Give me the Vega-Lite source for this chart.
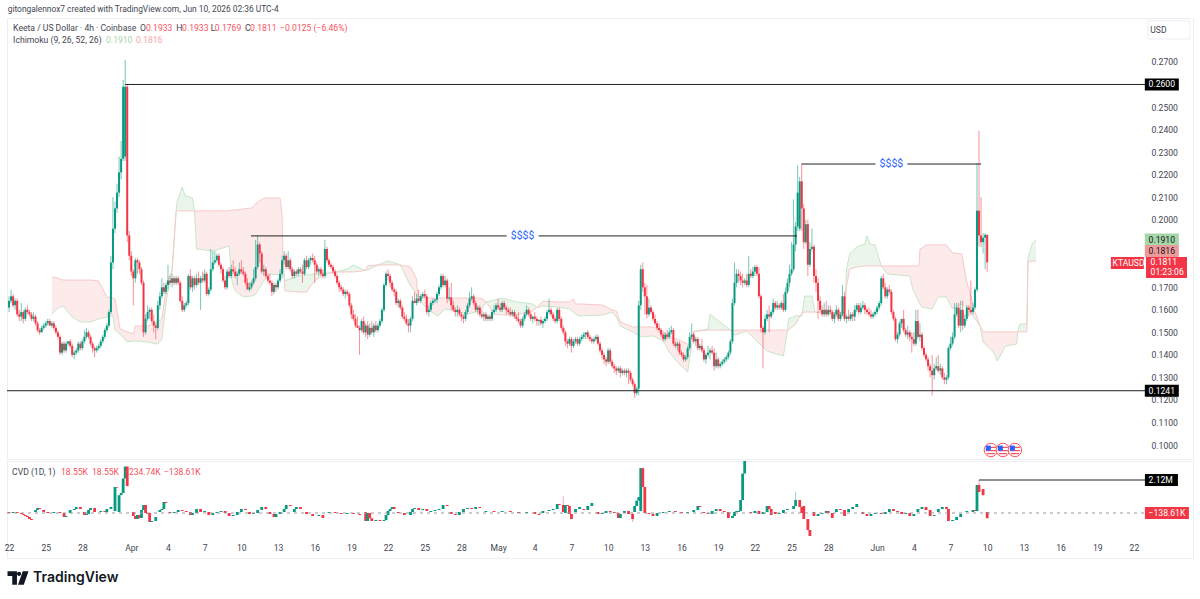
{
"$schema":"https://vega.github.io/schema/vega-lite/v6.json",
"background":"white",
"padding":{"left":3,"top":5,"right":0,"bottom":0},
"spacing":0,
"title":{"text":"gitongalennox7 created with TradingView.com, Jun 10, 2026 02:36 UTC-4","anchor":"start","font":"Roboto","fontSize":8.4,"fontWeight":"normal","color":"#434651","offset":4,"dx":4},
"config":{"view":{"stroke":"#eceef3"},"concat":{"spacing":0}},
"datasets":{
"candles":[
{"i":0,"o":0.161,"h":0.166,"l":0.159,"c":0.164},{"i":1,"o":0.164,"h":0.169,"l":0.163,"c":0.166},{"i":2,"o":0.166,"h":0.167,"l":0.161,"c":0.162},{"i":3,"o":0.162,"h":0.165,"l":0.16,"c":0.164},{"i":4,"o":0.164,"h":0.165,"l":0.157,"c":0.158},{"i":5,"o":0.158,"h":0.16,"l":0.155,"c":0.157},{"i":6,"o":0.157,"h":0.163,"l":0.155,"c":0.159},{"i":7,"o":0.159,"h":0.16,"l":0.154,"c":0.156},{"i":8,"o":0.156,"h":0.161,"l":0.155,"c":0.16},{"i":9,"o":0.16,"h":0.162,"l":0.158,"c":0.159},{"i":10,"o":0.159,"h":0.16,"l":0.157,"c":0.158},{"i":11,"o":0.158,"h":0.159,"l":0.155,"c":0.156},{"i":12,"o":0.156,"h":0.159,"l":0.155,"c":0.157},{"i":13,"o":0.157,"h":0.158,"l":0.153,"c":0.154},{"i":14,"o":0.154,"h":0.155,"l":0.15,"c":0.151},{"i":15,"o":0.151,"h":0.152,"l":0.149,"c":0.15},{"i":16,"o":0.15,"h":0.153,"l":0.15,"c":0.152},{"i":17,"o":0.152,"h":0.154,"l":0.151,"c":0.153},{"i":18,"o":0.153,"h":0.155,"l":0.152,"c":0.154},{"i":19,"o":0.154,"h":0.156,"l":0.153,"c":0.155},
{"i":20,"o":0.155,"h":0.156,"l":0.153,"c":0.153},{"i":21,"o":0.153,"h":0.155,"l":0.152,"c":0.154},{"i":22,"o":0.154,"h":0.155,"l":0.151,"c":0.152},{"i":23,"o":0.152,"h":0.153,"l":0.149,"c":0.15},{"i":24,"o":0.15,"h":0.151,"l":0.147,"c":0.148},{"i":25,"o":0.148,"h":0.149,"l":0.14,"c":0.141},{"i":26,"o":0.141,"h":0.146,"l":0.14,"c":0.145},{"i":27,"o":0.145,"h":0.146,"l":0.141,"c":0.142},{"i":28,"o":0.142,"h":0.146,"l":0.141,"c":0.145},{"i":29,"o":0.145,"h":0.146,"l":0.144,"c":0.146},{"i":30,"o":0.146,"h":0.147,"l":0.143,"c":0.144},{"i":31,"o":0.144,"h":0.145,"l":0.139,"c":0.14},{"i":32,"o":0.14,"h":0.142,"l":0.138,"c":0.141},{"i":33,"o":0.141,"h":0.143,"l":0.14,"c":0.142},{"i":34,"o":0.142,"h":0.146,"l":0.141,"c":0.145},{"i":35,"o":0.145,"h":0.146,"l":0.142,"c":0.143},{"i":36,"o":0.143,"h":0.147,"l":0.142,"c":0.146},{"i":37,"o":0.146,"h":0.151,"l":0.145,"c":0.148},{"i":38,"o":0.148,"h":0.152,"l":0.147,"c":0.15},{"i":39,"o":0.15,"h":0.151,"l":0.147,"c":0.148},
{"i":40,"o":0.148,"h":0.149,"l":0.144,"c":0.145},{"i":41,"o":0.145,"h":0.146,"l":0.141,"c":0.143},{"i":42,"o":0.143,"h":0.144,"l":0.139,"c":0.142},{"i":43,"o":0.142,"h":0.144,"l":0.141,"c":0.143},{"i":44,"o":0.143,"h":0.145,"l":0.142,"c":0.144},{"i":45,"o":0.144,"h":0.147,"l":0.143,"c":0.146},{"i":46,"o":0.146,"h":0.149,"l":0.145,"c":0.148},{"i":47,"o":0.148,"h":0.152,"l":0.147,"c":0.151},{"i":48,"o":0.151,"h":0.154,"l":0.15,"c":0.153},{"i":49,"o":0.153,"h":0.16,"l":0.152,"c":0.159},{"i":50,"o":0.159,"h":0.184,"l":0.158,"c":0.181},{"i":51,"o":0.181,"h":0.21,"l":0.178,"c":0.196},{"i":52,"o":0.196,"h":0.208,"l":0.194,"c":0.205},{"i":53,"o":0.205,"h":0.216,"l":0.203,"c":0.212},{"i":54,"o":0.212,"h":0.228,"l":0.21,"c":0.221},{"i":55,"o":0.221,"h":0.235,"l":0.218,"c":0.227},{"i":56,"o":0.227,"h":0.262,"l":0.226,"c":0.259},{"i":57,"o":0.228,"h":0.271,"l":0.226,"c":0.259},{"i":58,"o":0.259,"h":0.26,"l":0.19,"c":0.193},{"i":59,"o":0.193,"h":0.195,"l":0.182,"c":0.184},
{"i":60,"o":0.184,"h":0.186,"l":0.175,"c":0.177},{"i":61,"o":0.177,"h":0.178,"l":0.162,"c":0.174},{"i":62,"o":0.174,"h":0.183,"l":0.172,"c":0.182},{"i":63,"o":0.182,"h":0.183,"l":0.176,"c":0.181},{"i":64,"o":0.181,"h":0.182,"l":0.176,"c":0.178},{"i":65,"o":0.178,"h":0.179,"l":0.171,"c":0.172},{"i":66,"o":0.172,"h":0.173,"l":0.148,"c":0.15},{"i":67,"o":0.15,"h":0.158,"l":0.149,"c":0.156},{"i":68,"o":0.156,"h":0.162,"l":0.155,"c":0.159},{"i":69,"o":0.159,"h":0.161,"l":0.156,"c":0.16},{"i":70,"o":0.16,"h":0.161,"l":0.154,"c":0.155},{"i":71,"o":0.155,"h":0.158,"l":0.15,"c":0.153},{"i":72,"o":0.153,"h":0.154,"l":0.147,"c":0.152},{"i":73,"o":0.152,"h":0.164,"l":0.151,"c":0.162},{"i":74,"o":0.162,"h":0.168,"l":0.16,"c":0.166},{"i":75,"o":0.166,"h":0.174,"l":0.165,"c":0.17},{"i":76,"o":0.17,"h":0.172,"l":0.167,"c":0.168},{"i":77,"o":0.168,"h":0.172,"l":0.167,"c":0.171},{"i":78,"o":0.171,"h":0.18,"l":0.169,"c":0.173},{"i":79,"o":0.173,"h":0.175,"l":0.171,"c":0.172},
{"i":80,"o":0.172,"h":0.176,"l":0.17,"c":0.174},{"i":81,"o":0.174,"h":0.175,"l":0.171,"c":0.172},{"i":82,"o":0.172,"h":0.175,"l":0.171,"c":0.174},{"i":83,"o":0.174,"h":0.175,"l":0.171,"c":0.172},{"i":84,"o":0.172,"h":0.173,"l":0.163,"c":0.164},{"i":85,"o":0.164,"h":0.166,"l":0.159,"c":0.16},{"i":86,"o":0.16,"h":0.163,"l":0.159,"c":0.162},{"i":87,"o":0.162,"h":0.164,"l":0.161,"c":0.163},{"i":88,"o":0.163,"h":0.176,"l":0.162,"c":0.175},{"i":89,"o":0.175,"h":0.178,"l":0.169,"c":0.17},{"i":90,"o":0.17,"h":0.175,"l":0.168,"c":0.174},{"i":91,"o":0.174,"h":0.175,"l":0.169,"c":0.171},{"i":92,"o":0.171,"h":0.176,"l":0.17,"c":0.174},{"i":93,"o":0.174,"h":0.177,"l":0.171,"c":0.172},{"i":94,"o":0.172,"h":0.175,"l":0.16,"c":0.174},{"i":95,"o":0.174,"h":0.177,"l":0.172,"c":0.173},{"i":96,"o":0.173,"h":0.178,"l":0.172,"c":0.176},{"i":97,"o":0.176,"h":0.177,"l":0.166,"c":0.167},{"i":98,"o":0.167,"h":0.17,"l":0.166,"c":0.169},{"i":99,"o":0.169,"h":0.187,"l":0.168,"c":0.178},
{"i":100,"o":0.178,"h":0.186,"l":0.177,"c":0.181},{"i":101,"o":0.181,"h":0.186,"l":0.18,"c":0.182},{"i":102,"o":0.182,"h":0.185,"l":0.181,"c":0.184},{"i":103,"o":0.184,"h":0.185,"l":0.179,"c":0.18},{"i":104,"o":0.18,"h":0.181,"l":0.176,"c":0.178},{"i":105,"o":0.178,"h":0.179,"l":0.172,"c":0.173},{"i":106,"o":0.173,"h":0.175,"l":0.169,"c":0.17},{"i":107,"o":0.17,"h":0.178,"l":0.169,"c":0.177},{"i":108,"o":0.177,"h":0.179,"l":0.174,"c":0.175},{"i":109,"o":0.175,"h":0.18,"l":0.174,"c":0.178},{"i":110,"o":0.178,"h":0.182,"l":0.176,"c":0.177},{"i":111,"o":0.177,"h":0.179,"l":0.174,"c":0.175},{"i":112,"o":0.175,"h":0.177,"l":0.171,"c":0.176},{"i":113,"o":0.176,"h":0.181,"l":0.175,"c":0.178},{"i":114,"o":0.178,"h":0.182,"l":0.176,"c":0.177},{"i":115,"o":0.177,"h":0.179,"l":0.175,"c":0.176},{"i":116,"o":0.176,"h":0.177,"l":0.171,"c":0.172},{"i":117,"o":0.172,"h":0.174,"l":0.17,"c":0.169},{"i":118,"o":0.169,"h":0.172,"l":0.168,"c":0.17},{"i":119,"o":0.17,"h":0.173,"l":0.169,"c":0.172},
{"i":120,"o":0.172,"h":0.178,"l":0.171,"c":0.174},{"i":121,"o":0.174,"h":0.191,"l":0.173,"c":0.179},{"i":122,"o":0.179,"h":0.193,"l":0.178,"c":0.189},{"i":123,"o":0.189,"h":0.19,"l":0.181,"c":0.185},{"i":124,"o":0.185,"h":0.186,"l":0.176,"c":0.177},{"i":125,"o":0.177,"h":0.18,"l":0.175,"c":0.178},{"i":126,"o":0.178,"h":0.179,"l":0.174,"c":0.175},{"i":127,"o":0.175,"h":0.176,"l":0.172,"c":0.173},{"i":128,"o":0.173,"h":0.176,"l":0.171,"c":0.172},{"i":129,"o":0.172,"h":0.173,"l":0.166,"c":0.168},{"i":130,"o":0.168,"h":0.172,"l":0.167,"c":0.171},{"i":131,"o":0.171,"h":0.172,"l":0.168,"c":0.17},{"i":132,"o":0.17,"h":0.174,"l":0.169,"c":0.173},{"i":133,"o":0.173,"h":0.178,"l":0.172,"c":0.176},{"i":134,"o":0.176,"h":0.184,"l":0.174,"c":0.182},{"i":135,"o":0.182,"h":0.186,"l":0.18,"c":0.184},{"i":136,"o":0.184,"h":0.185,"l":0.178,"c":0.179},{"i":137,"o":0.179,"h":0.186,"l":0.178,"c":0.182},{"i":138,"o":0.182,"h":0.183,"l":0.177,"c":0.178},{"i":139,"o":0.178,"h":0.179,"l":0.174,"c":0.175},
{"i":140,"o":0.175,"h":0.178,"l":0.174,"c":0.177},{"i":141,"o":0.177,"h":0.178,"l":0.175,"c":0.176},{"i":142,"o":0.176,"h":0.179,"l":0.175,"c":0.178},{"i":143,"o":0.178,"h":0.179,"l":0.176,"c":0.177},{"i":144,"o":0.177,"h":0.18,"l":0.172,"c":0.176},{"i":145,"o":0.176,"h":0.183,"l":0.175,"c":0.182},{"i":146,"o":0.182,"h":0.184,"l":0.178,"c":0.179},{"i":147,"o":0.179,"h":0.183,"l":0.178,"c":0.182},{"i":148,"o":0.182,"h":0.184,"l":0.18,"c":0.183},{"i":149,"o":0.183,"h":0.185,"l":0.181,"c":0.182},{"i":150,"o":0.182,"h":0.184,"l":0.172,"c":0.18},{"i":151,"o":0.18,"h":0.181,"l":0.176,"c":0.177},{"i":152,"o":0.177,"h":0.179,"l":0.175,"c":0.178},{"i":153,"o":0.178,"h":0.179,"l":0.175,"c":0.176},{"i":154,"o":0.176,"h":0.178,"l":0.174,"c":0.175},{"i":155,"o":0.175,"h":0.191,"l":0.174,"c":0.187},{"i":156,"o":0.187,"h":0.188,"l":0.181,"c":0.182},{"i":157,"o":0.182,"h":0.183,"l":0.179,"c":0.18},{"i":158,"o":0.18,"h":0.181,"l":0.178,"c":0.179},{"i":159,"o":0.179,"h":0.18,"l":0.176,"c":0.177},
{"i":160,"o":0.177,"h":0.178,"l":0.174,"c":0.175},{"i":161,"o":0.175,"h":0.176,"l":0.171,"c":0.172},{"i":162,"o":0.172,"h":0.173,"l":0.168,"c":0.17},{"i":163,"o":0.17,"h":0.171,"l":0.168,"c":0.169},{"i":164,"o":0.169,"h":0.17,"l":0.166,"c":0.167},{"i":165,"o":0.167,"h":0.169,"l":0.165,"c":0.168},{"i":166,"o":0.168,"h":0.169,"l":0.166,"c":0.167},{"i":167,"o":0.167,"h":0.168,"l":0.161,"c":0.162},{"i":168,"o":0.162,"h":0.163,"l":0.156,"c":0.158},{"i":169,"o":0.158,"h":0.16,"l":0.155,"c":0.156},{"i":170,"o":0.156,"h":0.158,"l":0.152,"c":0.153},{"i":171,"o":0.153,"h":0.157,"l":0.152,"c":0.152},{"i":172,"o":0.152,"h":0.153,"l":0.14,"c":0.151},{"i":173,"o":0.151,"h":0.156,"l":0.15,"c":0.155},{"i":174,"o":0.155,"h":0.157,"l":0.149,"c":0.15},{"i":175,"o":0.15,"h":0.154,"l":0.148,"c":0.153},{"i":176,"o":0.153,"h":0.155,"l":0.147,"c":0.149},{"i":177,"o":0.149,"h":0.154,"l":0.148,"c":0.152},{"i":178,"o":0.152,"h":0.155,"l":0.149,"c":0.15},{"i":179,"o":0.15,"h":0.154,"l":0.148,"c":0.153},
{"i":180,"o":0.153,"h":0.155,"l":0.15,"c":0.151},{"i":181,"o":0.151,"h":0.154,"l":0.15,"c":0.153},{"i":182,"o":0.153,"h":0.156,"l":0.152,"c":0.155},{"i":183,"o":0.155,"h":0.161,"l":0.154,"c":0.16},{"i":184,"o":0.16,"h":0.172,"l":0.159,"c":0.171},{"i":185,"o":0.171,"h":0.177,"l":0.17,"c":0.176},{"i":186,"o":0.176,"h":0.178,"l":0.173,"c":0.175},{"i":187,"o":0.175,"h":0.176,"l":0.17,"c":0.172},{"i":188,"o":0.172,"h":0.173,"l":0.168,"c":0.169},{"i":189,"o":0.169,"h":0.17,"l":0.166,"c":0.168},{"i":190,"o":0.168,"h":0.169,"l":0.162,"c":0.163},{"i":191,"o":0.163,"h":0.165,"l":0.161,"c":0.164},{"i":192,"o":0.164,"h":0.165,"l":0.16,"c":0.161},{"i":193,"o":0.161,"h":0.162,"l":0.156,"c":0.157},{"i":194,"o":0.157,"h":0.159,"l":0.155,"c":0.156},{"i":195,"o":0.156,"h":0.158,"l":0.153,"c":0.154},{"i":196,"o":0.154,"h":0.156,"l":0.15,"c":0.153},{"i":197,"o":0.153,"h":0.157,"l":0.15,"c":0.156},{"i":198,"o":0.156,"h":0.166,"l":0.155,"c":0.164},{"i":199,"o":0.164,"h":0.168,"l":0.163,"c":0.163},
{"i":200,"o":0.163,"h":0.167,"l":0.162,"c":0.165},{"i":201,"o":0.165,"h":0.169,"l":0.163,"c":0.164},{"i":202,"o":0.164,"h":0.167,"l":0.163,"c":0.166},{"i":203,"o":0.166,"h":0.168,"l":0.165,"c":0.167},{"i":204,"o":0.167,"h":0.169,"l":0.165,"c":0.166},{"i":205,"o":0.166,"h":0.167,"l":0.158,"c":0.159},{"i":206,"o":0.159,"h":0.162,"l":0.157,"c":0.16},{"i":207,"o":0.16,"h":0.164,"l":0.159,"c":0.163},{"i":208,"o":0.163,"h":0.165,"l":0.162,"c":0.164},{"i":209,"o":0.164,"h":0.165,"l":0.163,"c":0.1645},{"i":210,"o":0.1645,"h":0.168,"l":0.163,"c":0.167},{"i":211,"o":0.167,"h":0.171,"l":0.166,"c":0.17},{"i":212,"o":0.17,"h":0.176,"l":0.169,"c":0.175},{"i":213,"o":0.175,"h":0.176,"l":0.17,"c":0.171},{"i":214,"o":0.171,"h":0.175,"l":0.17,"c":0.173},{"i":215,"o":0.173,"h":0.174,"l":0.163,"c":0.165},{"i":216,"o":0.165,"h":0.17,"l":0.164,"c":0.1655},{"i":217,"o":0.1655,"h":0.172,"l":0.16,"c":0.162},{"i":218,"o":0.162,"h":0.164,"l":0.159,"c":0.16},{"i":219,"o":0.16,"h":0.161,"l":0.157,"c":0.159},
{"i":220,"o":0.159,"h":0.162,"l":0.157,"c":0.16},{"i":221,"o":0.16,"h":0.161,"l":0.157,"c":0.158},{"i":222,"o":0.158,"h":0.159,"l":0.155,"c":0.157},{"i":223,"o":0.157,"h":0.158,"l":0.154,"c":0.156},{"i":224,"o":0.156,"h":0.16,"l":0.155,"c":0.159},{"i":225,"o":0.159,"h":0.163,"l":0.158,"c":0.162},{"i":226,"o":0.162,"h":0.168,"l":0.161,"c":0.165},{"i":227,"o":0.165,"h":0.17,"l":0.164,"c":0.166},{"i":228,"o":0.166,"h":0.167,"l":0.162,"c":0.163},{"i":229,"o":0.163,"h":0.164,"l":0.159,"c":0.16},{"i":230,"o":0.16,"h":0.162,"l":0.158,"c":0.161},{"i":231,"o":0.161,"h":0.162,"l":0.157,"c":0.158},{"i":232,"o":0.158,"h":0.16,"l":0.156,"c":0.157},{"i":233,"o":0.157,"h":0.159,"l":0.155,"c":0.158},{"i":234,"o":0.158,"h":0.159,"l":0.155,"c":0.156},{"i":235,"o":0.156,"h":0.158,"l":0.155,"c":0.157},{"i":236,"o":0.157,"h":0.158,"l":0.155,"c":0.156},{"i":237,"o":0.156,"h":0.16,"l":0.155,"c":0.159},{"i":238,"o":0.159,"h":0.162,"l":0.158,"c":0.16},{"i":239,"o":0.16,"h":0.163,"l":0.159,"c":0.162},
{"i":240,"o":0.162,"h":0.165,"l":0.16,"c":0.161},{"i":241,"o":0.161,"h":0.163,"l":0.159,"c":0.16},{"i":242,"o":0.16,"h":0.164,"l":0.159,"c":0.163},{"i":243,"o":0.163,"h":0.164,"l":0.16,"c":0.161},{"i":244,"o":0.161,"h":0.162,"l":0.158,"c":0.16},{"i":245,"o":0.16,"h":0.161,"l":0.158,"c":0.159},{"i":246,"o":0.159,"h":0.161,"l":0.157,"c":0.158},{"i":247,"o":0.158,"h":0.16,"l":0.157,"c":0.159},{"i":248,"o":0.159,"h":0.16,"l":0.156,"c":0.157},{"i":249,"o":0.157,"h":0.158,"l":0.155,"c":0.156},{"i":250,"o":0.156,"h":0.159,"l":0.154,"c":0.155},{"i":251,"o":0.155,"h":0.156,"l":0.152,"c":0.153},{"i":252,"o":0.153,"h":0.157,"l":0.152,"c":0.156},{"i":253,"o":0.156,"h":0.159,"l":0.155,"c":0.158},{"i":254,"o":0.158,"h":0.162,"l":0.157,"c":0.16},{"i":255,"o":0.16,"h":0.161,"l":0.157,"c":0.158},{"i":256,"o":0.158,"h":0.159,"l":0.155,"c":0.156},{"i":257,"o":0.156,"h":0.157,"l":0.154,"c":0.157},{"i":258,"o":0.157,"h":0.159,"l":0.155,"c":0.156},{"i":259,"o":0.156,"h":0.157,"l":0.153,"c":0.155},
{"i":260,"o":0.155,"h":0.156,"l":0.153,"c":0.1555},{"i":261,"o":0.1555,"h":0.157,"l":0.153,"c":0.154},{"i":262,"o":0.154,"h":0.156,"l":0.152,"c":0.155},{"i":263,"o":0.155,"h":0.157,"l":0.154,"c":0.156},{"i":264,"o":0.156,"h":0.16,"l":0.155,"c":0.159},{"i":265,"o":0.159,"h":0.165,"l":0.158,"c":0.16},{"i":266,"o":0.16,"h":0.161,"l":0.157,"c":0.158},{"i":267,"o":0.158,"h":0.159,"l":0.155,"c":0.156},{"i":268,"o":0.156,"h":0.157,"l":0.154,"c":0.155},{"i":269,"o":0.155,"h":0.161,"l":0.154,"c":0.16},{"i":270,"o":0.16,"h":0.161,"l":0.155,"c":0.156},{"i":271,"o":0.156,"h":0.157,"l":0.151,"c":0.152},{"i":272,"o":0.152,"h":0.153,"l":0.149,"c":0.15},{"i":273,"o":0.15,"h":0.151,"l":0.144,"c":0.146},{"i":274,"o":0.146,"h":0.147,"l":0.143,"c":0.145},{"i":275,"o":0.145,"h":0.148,"l":0.144,"c":0.147},{"i":276,"o":0.147,"h":0.148,"l":0.141,"c":0.144},{"i":277,"o":0.144,"h":0.147,"l":0.143,"c":0.146},{"i":278,"o":0.146,"h":0.148,"l":0.145,"c":0.147},{"i":279,"o":0.147,"h":0.148,"l":0.144,"c":0.145},
{"i":280,"o":0.145,"h":0.148,"l":0.144,"c":0.147},{"i":281,"o":0.147,"h":0.149,"l":0.146,"c":0.148},{"i":282,"o":0.148,"h":0.15,"l":0.147,"c":0.149},{"i":283,"o":0.149,"h":0.15,"l":0.147,"c":0.15},{"i":284,"o":0.15,"h":0.151,"l":0.147,"c":0.148},{"i":285,"o":0.148,"h":0.149,"l":0.146,"c":0.147},{"i":286,"o":0.147,"h":0.148,"l":0.145,"c":0.146},{"i":287,"o":0.146,"h":0.148,"l":0.145,"c":0.147},{"i":288,"o":0.147,"h":0.149,"l":0.146,"c":0.148},{"i":289,"o":0.148,"h":0.149,"l":0.144,"c":0.145},{"i":290,"o":0.145,"h":0.146,"l":0.141,"c":0.142},{"i":291,"o":0.142,"h":0.143,"l":0.138,"c":0.14},{"i":292,"o":0.14,"h":0.141,"l":0.136,"c":0.138},{"i":293,"o":0.138,"h":0.139,"l":0.135,"c":0.137},{"i":294,"o":0.137,"h":0.143,"l":0.136,"c":0.142},{"i":295,"o":0.142,"h":0.143,"l":0.136,"c":0.137},{"i":296,"o":0.137,"h":0.138,"l":0.134,"c":0.135},{"i":297,"o":0.135,"h":0.136,"l":0.132,"c":0.134},{"i":298,"o":0.134,"h":0.135,"l":0.131,"c":0.133},{"i":299,"o":0.133,"h":0.135,"l":0.132,"c":0.134},
{"i":300,"o":0.134,"h":0.135,"l":0.13,"c":0.132},{"i":301,"o":0.132,"h":0.134,"l":0.131,"c":0.133},{"i":302,"o":0.133,"h":0.134,"l":0.131,"c":0.132},{"i":303,"o":0.132,"h":0.134,"l":0.13,"c":0.133},{"i":304,"o":0.133,"h":0.134,"l":0.127,"c":0.132},{"i":305,"o":0.132,"h":0.133,"l":0.128,"c":0.129},{"i":306,"o":0.129,"h":0.13,"l":0.126,"c":0.127},{"i":307,"o":0.127,"h":0.128,"l":0.121,"c":0.123},{"i":308,"o":0.123,"h":0.126,"l":0.122,"c":0.125},{"i":309,"o":0.125,"h":0.164,"l":0.122,"c":0.162},{"i":310,"o":0.162,"h":0.18,"l":0.16,"c":0.178},{"i":311,"o":0.178,"h":0.181,"l":0.168,"c":0.17},{"i":312,"o":0.17,"h":0.172,"l":0.158,"c":0.166},{"i":313,"o":0.166,"h":0.171,"l":0.156,"c":0.158},{"i":314,"o":0.158,"h":0.165,"l":0.157,"c":0.161},{"i":315,"o":0.161,"h":0.162,"l":0.158,"c":0.159},{"i":316,"o":0.159,"h":0.16,"l":0.155,"c":0.156},{"i":317,"o":0.156,"h":0.158,"l":0.153,"c":0.154},{"i":318,"o":0.154,"h":0.155,"l":0.151,"c":0.152},{"i":319,"o":0.152,"h":0.154,"l":0.15,"c":0.151},
{"i":320,"o":0.151,"h":0.152,"l":0.148,"c":0.149},{"i":321,"o":0.149,"h":0.15,"l":0.146,"c":0.147},{"i":322,"o":0.147,"h":0.15,"l":0.146,"c":0.149},{"i":323,"o":0.149,"h":0.151,"l":0.147,"c":0.148},{"i":324,"o":0.148,"h":0.152,"l":0.147,"c":0.15},{"i":325,"o":0.15,"h":0.153,"l":0.149,"c":0.151},{"i":326,"o":0.151,"h":0.152,"l":0.144,"c":0.145},{"i":327,"o":0.145,"h":0.146,"l":0.143,"c":0.144},{"i":328,"o":0.144,"h":0.146,"l":0.142,"c":0.145},{"i":329,"o":0.145,"h":0.146,"l":0.14,"c":0.141},{"i":330,"o":0.141,"h":0.142,"l":0.139,"c":0.14},{"i":331,"o":0.14,"h":0.141,"l":0.137,"c":0.138},{"i":332,"o":0.138,"h":0.14,"l":0.137,"c":0.139},{"i":333,"o":0.139,"h":0.144,"l":0.138,"c":0.143},{"i":334,"o":0.143,"h":0.15,"l":0.142,"c":0.148},{"i":335,"o":0.148,"h":0.154,"l":0.147,"c":0.149},{"i":336,"o":0.149,"h":0.15,"l":0.145,"c":0.146},{"i":337,"o":0.146,"h":0.148,"l":0.144,"c":0.147},{"i":338,"o":0.147,"h":0.148,"l":0.142,"c":0.143},{"i":339,"o":0.143,"h":0.145,"l":0.142,"c":0.144},
{"i":340,"o":0.144,"h":0.147,"l":0.141,"c":0.142},{"i":341,"o":0.142,"h":0.143,"l":0.137,"c":0.138},{"i":342,"o":0.138,"h":0.141,"l":0.136,"c":0.14},{"i":343,"o":0.14,"h":0.144,"l":0.139,"c":0.141},{"i":344,"o":0.141,"h":0.143,"l":0.138,"c":0.142},{"i":345,"o":0.142,"h":0.144,"l":0.14,"c":0.141},{"i":346,"o":0.141,"h":0.143,"l":0.133,"c":0.135},{"i":347,"o":0.135,"h":0.141,"l":0.134,"c":0.138},{"i":348,"o":0.138,"h":0.139,"l":0.134,"c":0.135},{"i":349,"o":0.135,"h":0.137,"l":0.134,"c":0.136},{"i":350,"o":0.136,"h":0.138,"l":0.135,"c":0.137},{"i":351,"o":0.137,"h":0.139,"l":0.136,"c":0.138},{"i":352,"o":0.138,"h":0.14,"l":0.137,"c":0.139},{"i":353,"o":0.139,"h":0.142,"l":0.138,"c":0.141},{"i":354,"o":0.141,"h":0.147,"l":0.14,"c":0.146},{"i":355,"o":0.146,"h":0.165,"l":0.145,"c":0.163},{"i":356,"o":0.163,"h":0.181,"l":0.162,"c":0.172},{"i":357,"o":0.172,"h":0.178,"l":0.17,"c":0.176},{"i":358,"o":0.176,"h":0.178,"l":0.172,"c":0.175},{"i":359,"o":0.175,"h":0.177,"l":0.171,"c":0.173},
{"i":360,"o":0.173,"h":0.176,"l":0.17,"c":0.172},{"i":361,"o":0.172,"h":0.174,"l":0.171,"c":0.173},{"i":362,"o":0.173,"h":0.176,"l":0.17,"c":0.171},{"i":363,"o":0.171,"h":0.184,"l":0.17,"c":0.176},{"i":364,"o":0.176,"h":0.178,"l":0.174,"c":0.175},{"i":365,"o":0.175,"h":0.179,"l":0.174,"c":0.177},{"i":366,"o":0.177,"h":0.18,"l":0.175,"c":0.179},{"i":367,"o":0.179,"h":0.18,"l":0.175,"c":0.176},{"i":368,"o":0.176,"h":0.179,"l":0.165,"c":0.166},{"i":369,"o":0.166,"h":0.167,"l":0.15,"c":0.152},{"i":370,"o":0.152,"h":0.153,"l":0.134,"c":0.15},{"i":371,"o":0.15,"h":0.158,"l":0.149,"c":0.156},{"i":372,"o":0.156,"h":0.16,"l":0.155,"c":0.158},{"i":373,"o":0.158,"h":0.162,"l":0.15,"c":0.157},{"i":374,"o":0.157,"h":0.16,"l":0.156,"c":0.159},{"i":375,"o":0.159,"h":0.165,"l":0.158,"c":0.163},{"i":376,"o":0.163,"h":0.164,"l":0.16,"c":0.161},{"i":377,"o":0.161,"h":0.164,"l":0.16,"c":0.162},{"i":378,"o":0.162,"h":0.163,"l":0.16,"c":0.161},{"i":379,"o":0.161,"h":0.164,"l":0.16,"c":0.163},
{"i":380,"o":0.163,"h":0.167,"l":0.159,"c":0.16},{"i":381,"o":0.16,"h":0.17,"l":0.159,"c":0.168},{"i":382,"o":0.168,"h":0.174,"l":0.167,"c":0.172},{"i":383,"o":0.172,"h":0.18,"l":0.17,"c":0.176},{"i":384,"o":0.176,"h":0.19,"l":0.175,"c":0.178},{"i":385,"o":0.178,"h":0.209,"l":0.177,"c":0.189},{"i":386,"o":0.189,"h":0.199,"l":0.186,"c":0.197},{"i":387,"o":0.197,"h":0.224,"l":0.195,"c":0.212},{"i":388,"o":0.196,"h":0.219,"l":0.195,"c":0.217},{"i":389,"o":0.217,"h":0.225,"l":0.195,"c":0.205},{"i":390,"o":0.205,"h":0.207,"l":0.187,"c":0.19},{"i":391,"o":0.19,"h":0.2,"l":0.189,"c":0.198},{"i":392,"o":0.198,"h":0.2,"l":0.175,"c":0.18},{"i":393,"o":0.18,"h":0.19,"l":0.179,"c":0.187},{"i":394,"o":0.187,"h":0.196,"l":0.186,"c":0.188},{"i":395,"o":0.188,"h":0.189,"l":0.172,"c":0.175},{"i":396,"o":0.175,"h":0.178,"l":0.168,"c":0.172},{"i":397,"o":0.172,"h":0.174,"l":0.156,"c":0.164},{"i":398,"o":0.164,"h":0.166,"l":0.159,"c":0.16},{"i":399,"o":0.16,"h":0.162,"l":0.157,"c":0.158},
{"i":400,"o":0.158,"h":0.163,"l":0.157,"c":0.16},{"i":401,"o":0.16,"h":0.164,"l":0.157,"c":0.158},{"i":402,"o":0.158,"h":0.162,"l":0.157,"c":0.16},{"i":403,"o":0.16,"h":0.162,"l":0.158,"c":0.159},{"i":404,"o":0.159,"h":0.16,"l":0.155,"c":0.156},{"i":405,"o":0.156,"h":0.159,"l":0.154,"c":0.158},{"i":406,"o":0.158,"h":0.162,"l":0.157,"c":0.16},{"i":407,"o":0.16,"h":0.161,"l":0.155,"c":0.156},{"i":408,"o":0.156,"h":0.159,"l":0.155,"c":0.158},{"i":409,"o":0.158,"h":0.171,"l":0.157,"c":0.166},{"i":410,"o":0.166,"h":0.168,"l":0.155,"c":0.156},{"i":411,"o":0.156,"h":0.158,"l":0.154,"c":0.157},{"i":412,"o":0.157,"h":0.16,"l":0.155,"c":0.156},{"i":413,"o":0.156,"h":0.159,"l":0.155,"c":0.158},{"i":414,"o":0.158,"h":0.159,"l":0.155,"c":0.157},{"i":415,"o":0.157,"h":0.162,"l":0.155,"c":0.16},{"i":416,"o":0.16,"h":0.163,"l":0.159,"c":0.162},{"i":417,"o":0.162,"h":0.163,"l":0.158,"c":0.159},{"i":418,"o":0.159,"h":0.163,"l":0.158,"c":0.161},{"i":419,"o":0.161,"h":0.164,"l":0.16,"c":0.162},
{"i":420,"o":0.162,"h":0.163,"l":0.158,"c":0.16},{"i":421,"o":0.16,"h":0.161,"l":0.158,"c":0.159},{"i":422,"o":0.159,"h":0.161,"l":0.157,"c":0.158},{"i":423,"o":0.158,"h":0.16,"l":0.156,"c":0.157},{"i":424,"o":0.157,"h":0.159,"l":0.156,"c":0.158},{"i":425,"o":0.158,"h":0.16,"l":0.157,"c":0.159},{"i":426,"o":0.159,"h":0.162,"l":0.158,"c":0.161},{"i":427,"o":0.161,"h":0.164,"l":0.16,"c":0.163},{"i":428,"o":0.163,"h":0.175,"l":0.162,"c":0.174},{"i":429,"o":0.174,"h":0.176,"l":0.169,"c":0.17},{"i":430,"o":0.17,"h":0.172,"l":0.165,"c":0.166},{"i":431,"o":0.166,"h":0.17,"l":0.165,"c":0.169},{"i":432,"o":0.169,"h":0.171,"l":0.167,"c":0.168},{"i":433,"o":0.168,"h":0.169,"l":0.158,"c":0.159},{"i":434,"o":0.159,"h":0.16,"l":0.155,"c":0.156},{"i":435,"o":0.156,"h":0.157,"l":0.146,"c":0.147},{"i":436,"o":0.147,"h":0.15,"l":0.145,"c":0.149},{"i":437,"o":0.149,"h":0.155,"l":0.148,"c":0.154},{"i":438,"o":0.154,"h":0.156,"l":0.152,"c":0.156},{"i":439,"o":0.156,"h":0.16,"l":0.15,"c":0.151},
{"i":440,"o":0.151,"h":0.152,"l":0.148,"c":0.149},{"i":441,"o":0.149,"h":0.153,"l":0.147,"c":0.15},{"i":442,"o":0.15,"h":0.151,"l":0.146,"c":0.148},{"i":443,"o":0.148,"h":0.15,"l":0.141,"c":0.147},{"i":444,"o":0.147,"h":0.15,"l":0.144,"c":0.145},{"i":445,"o":0.145,"h":0.16,"l":0.144,"c":0.155},{"i":446,"o":0.155,"h":0.16,"l":0.147,"c":0.148},{"i":447,"o":0.148,"h":0.154,"l":0.146,"c":0.149},{"i":448,"o":0.149,"h":0.15,"l":0.142,"c":0.143},{"i":449,"o":0.143,"h":0.144,"l":0.139,"c":0.14},{"i":450,"o":0.14,"h":0.141,"l":0.137,"c":0.138},{"i":451,"o":0.138,"h":0.139,"l":0.133,"c":0.135},{"i":452,"o":0.135,"h":0.136,"l":0.13,"c":0.133},{"i":453,"o":0.133,"h":0.14,"l":0.122,"c":0.131},{"i":454,"o":0.131,"h":0.136,"l":0.129,"c":0.134},{"i":455,"o":0.134,"h":0.139,"l":0.133,"c":0.135},{"i":456,"o":0.135,"h":0.14,"l":0.132,"c":0.133},{"i":457,"o":0.133,"h":0.136,"l":0.131,"c":0.134},{"i":458,"o":0.134,"h":0.135,"l":0.129,"c":0.13},{"i":459,"o":0.13,"h":0.132,"l":0.127,"c":0.129},
{"i":460,"o":0.129,"h":0.131,"l":0.127,"c":0.13},{"i":461,"o":0.13,"h":0.144,"l":0.129,"c":0.143},{"i":462,"o":0.143,"h":0.148,"l":0.142,"c":0.145},{"i":463,"o":0.145,"h":0.15,"l":0.144,"c":0.148},{"i":464,"o":0.148,"h":0.163,"l":0.147,"c":0.158},{"i":465,"o":0.158,"h":0.163,"l":0.157,"c":0.161},{"i":466,"o":0.161,"h":0.163,"l":0.152,"c":0.153},{"i":467,"o":0.153,"h":0.164,"l":0.15,"c":0.16},{"i":468,"o":0.16,"h":0.164,"l":0.151,"c":0.153},{"i":469,"o":0.153,"h":0.158,"l":0.152,"c":0.156},{"i":470,"o":0.156,"h":0.162,"l":0.155,"c":0.161},{"i":471,"o":0.161,"h":0.162,"l":0.157,"c":0.16},{"i":472,"o":0.16,"h":0.173,"l":0.158,"c":0.159},{"i":473,"o":0.159,"h":0.163,"l":0.158,"c":0.161},{"i":474,"o":0.161,"h":0.17,"l":0.16,"c":0.169},{"i":475,"o":0.169,"h":0.225,"l":0.168,"c":0.204},{"i":476,"o":0.204,"h":0.2395,"l":0.188,"c":0.193},{"i":477,"o":0.193,"h":0.21,"l":0.188,"c":0.19},{"i":478,"o":0.19,"h":0.194,"l":0.185,"c":0.192},{"i":479,"o":0.192,"h":0.194,"l":0.178,"c":0.1933},{"i":480,"o":0.1933,"h":0.1933,"l":0.1769,"c":0.1811}],
"cloud":[
{"i":21,"a":0.158,"b":0.1746,"s":"r","g":1},{"i":24,"a":0.1608,"b":0.1741,"s":"r","g":1},{"i":26.5,"a":0.1617,"b":0.1732,"s":"r","g":1},{"i":31,"a":0.1568,"b":0.1732,"s":"r","g":1},{"i":35,"a":0.1546,"b":0.1732,"s":"r","g":1},{"i":40,"a":0.1546,"b":0.1732,"s":"r","g":1},{"i":44,"a":0.156,"b":0.1728,"s":"r","g":1},{"i":48,"a":0.1568,"b":0.1657,"s":"r","g":1},{"i":51,"a":0.1573,"b":0.1652,"s":"r","g":1},{"i":52,"a":0.151,"b":0.1648,"s":"r","g":1},{"i":54.5,"a":0.1493,"b":0.1515,"s":"r","g":1},{"i":58,"a":0.1457,"b":0.1502,"s":"r","g":1},{"i":61,"a":0.1462,"b":0.1493,"s":"r","g":1},{"i":62,"a":0.1462,"b":0.1528,"s":"r","g":1},{"i":68,"a":0.1457,"b":0.1528,"s":"r","g":1},{"i":73,"a":0.1448,"b":0.1546,"s":"r","g":1},{"i":75,"a":0.147,"b":0.156,"s":"r","g":1},{"i":77.5,"a":0.1661,"b":0.1723,"s":"r","g":1},{"i":80,"a":0.1772,"b":0.1772,"s":"r","g":1},{"i":82,"a":0.2039,"b":0.2039,"s":"r","g":1},
{"i":82,"a":0.2039,"b":0.2039,"s":"g","g":2},{"i":82.5,"a":0.2079,"b":0.2039,"s":"g","g":2},{"i":85,"a":0.2145,"b":0.2039,"s":"g","g":2},{"i":86.5,"a":0.2105,"b":0.2039,"s":"g","g":2},{"i":90,"a":0.2096,"b":0.2039,"s":"g","g":2},{"i":91,"a":0.2039,"b":0.2039,"s":"g","g":2},
{"i":91,"a":0.2039,"b":0.2039,"s":"r","g":3},{"i":92,"a":0.187,"b":0.2039,"s":"r","g":3},{"i":100,"a":0.1861,"b":0.2039,"s":"r","g":3},{"i":108,"a":0.1883,"b":0.2039,"s":"r","g":3},{"i":109.5,"a":0.1723,"b":0.2043,"s":"r","g":3},{"i":111,"a":0.1684,"b":0.2043,"s":"r","g":3},{"i":115,"a":0.1657,"b":0.2048,"s":"r","g":3},{"i":119,"a":0.1661,"b":0.2052,"s":"r","g":3},{"i":121,"a":0.167,"b":0.207,"s":"r","g":3},{"i":125,"a":0.1728,"b":0.2096,"s":"r","g":3},{"i":128,"a":0.1759,"b":0.2096,"s":"r","g":3},{"i":133,"a":0.1755,"b":0.2096,"s":"r","g":3},{"i":134,"a":0.1755,"b":0.2016,"s":"r","g":3},{"i":134.5,"a":0.1755,"b":0.1826,"s":"r","g":3},{"i":135,"a":0.1755,"b":0.1755,"s":"r","g":3},
{"i":135,"a":0.1755,"b":0.1755,"s":"g","g":4},{"i":135.4,"a":0.173,"b":0.1684,"s":"g","g":4},{"i":144,"a":0.1755,"b":0.1679,"s":"g","g":4},{"i":146,"a":0.1759,"b":0.1679,"s":"g","g":4},{"i":148,"a":0.1755,"b":0.1706,"s":"g","g":4},{"i":151,"a":0.1763,"b":0.1737,"s":"g","g":4},{"i":157,"a":0.1763,"b":0.1763,"s":"g","g":4},{"i":162,"a":0.1772,"b":0.1768,"s":"g","g":4},{"i":166,"a":0.1781,"b":0.1768,"s":"g","g":4},{"i":169,"a":0.1799,"b":0.1768,"s":"g","g":4},{"i":173,"a":0.1781,"b":0.1772,"s":"g","g":4},{"i":175,"a":0.1775,"b":0.1775,"s":"g","g":4},
{"i":175,"a":0.1775,"b":0.1775,"s":"r","g":5},{"i":176,"a":0.1777,"b":0.1795,"s":"r","g":5},{"i":181,"a":0.1799,"b":0.1799,"s":"r","g":5},
{"i":181,"a":0.1799,"b":0.1799,"s":"g","g":6},{"i":186,"a":0.1817,"b":0.1799,"s":"g","g":6},{"i":191,"a":0.1803,"b":0.1799,"s":"g","g":6},{"i":192,"a":0.1799,"b":0.1799,"s":"g","g":6},
{"i":192,"a":0.1799,"b":0.1799,"s":"r","g":7},{"i":197,"a":0.1706,"b":0.179,"s":"r","g":7},{"i":200,"a":0.167,"b":0.1737,"s":"r","g":7},{"i":200.5,"a":0.1648,"b":0.1661,"s":"r","g":7},{"i":206.5,"a":0.1595,"b":0.1652,"s":"r","g":7},{"i":210.5,"a":0.1573,"b":0.1652,"s":"r","g":7},{"i":214,"a":0.1604,"b":0.1652,"s":"r","g":7},{"i":219,"a":0.1595,"b":0.1652,"s":"r","g":7},{"i":225,"a":0.1581,"b":0.1652,"s":"r","g":7},{"i":231,"a":0.1595,"b":0.1652,"s":"r","g":7},{"i":232.5,"a":0.1612,"b":0.1648,"s":"r","g":7},{"i":234,"a":0.1635,"b":0.1635,"s":"r","g":7},
{"i":234,"a":0.1635,"b":0.1635,"s":"g","g":8},{"i":238.5,"a":0.1644,"b":0.158,"s":"g","g":8},{"i":242,"a":0.1652,"b":0.1577,"s":"g","g":8},{"i":249,"a":0.1635,"b":0.1577,"s":"g","g":8},{"i":257,"a":0.1626,"b":0.1595,"s":"g","g":8},{"i":259,"a":0.161,"b":0.161,"s":"g","g":8},
{"i":259,"a":0.161,"b":0.161,"s":"r","g":9},{"i":262,"a":0.1617,"b":0.1639,"s":"r","g":9},{"i":269,"a":0.1613,"b":0.1635,"s":"r","g":9},{"i":275,"a":0.1604,"b":0.1635,"s":"r","g":9},{"i":277,"a":0.159,"b":0.1648,"s":"r","g":9},{"i":278,"a":0.1581,"b":0.1626,"s":"r","g":9},{"i":280,"a":0.1573,"b":0.1626,"s":"r","g":9},{"i":291.5,"a":0.1577,"b":0.1621,"s":"r","g":9},{"i":296,"a":0.159,"b":0.1599,"s":"r","g":9},{"i":298,"a":0.1568,"b":0.1595,"s":"r","g":9},{"i":300,"a":0.1528,"b":0.1546,"s":"r","g":9},{"i":306,"a":0.1502,"b":0.1524,"s":"r","g":9},{"i":310,"a":0.148,"b":0.1524,"s":"r","g":9},{"i":316,"a":0.1484,"b":0.1524,"s":"r","g":9},{"i":321,"a":0.1462,"b":0.1506,"s":"r","g":9},{"i":324,"a":0.1413,"b":0.148,"s":"r","g":9},{"i":328,"a":0.1368,"b":0.147,"s":"r","g":9},{"i":333,"a":0.1324,"b":0.1448,"s":"r","g":9},{"i":334,"a":0.1382,"b":0.1439,"s":"r","g":9},{"i":336,"a":0.1504,"b":0.1504,"s":"r","g":9},
{"i":336,"a":0.1504,"b":0.1504,"s":"g","g":10},{"i":343,"a":0.1515,"b":0.151,"s":"g","g":10},{"i":344,"a":0.1581,"b":0.151,"s":"g","g":10},{"i":350,"a":0.1537,"b":0.151,"s":"g","g":10},{"i":354,"a":0.151,"b":0.151,"s":"g","g":10},
{"i":354,"a":0.151,"b":0.151,"s":"r","g":11},{"i":356,"a":0.1488,"b":0.151,"s":"r","g":11},{"i":362,"a":0.1506,"b":0.151,"s":"r","g":11},{"i":365,"a":0.1479,"b":0.151,"s":"r","g":11},{"i":372,"a":0.1417,"b":0.151,"s":"r","g":11},{"i":380,"a":0.1395,"b":0.151,"s":"r","g":11},{"i":382,"a":0.151,"b":0.151,"s":"r","g":11},
{"i":382,"a":0.151,"b":0.151,"s":"g","g":12},{"i":382.5,"a":0.156,"b":0.151,"s":"g","g":12},{"i":386,"a":0.1573,"b":0.1537,"s":"g","g":12},{"i":389,"a":0.1573,"b":0.1586,"s":"g","g":12},{"i":390.5,"a":0.1661,"b":0.159,"s":"g","g":12},{"i":394,"a":0.1661,"b":0.159,"s":"g","g":12},{"i":395.5,"a":0.159,"b":0.159,"s":"g","g":12},{"i":410,"a":0.159,"b":0.1573,"s":"g","g":12},{"i":411,"a":0.1781,"b":0.1706,"s":"g","g":12},{"i":412.5,"a":0.1848,"b":0.1781,"s":"g","g":12},{"i":416,"a":0.1879,"b":0.179,"s":"g","g":12},{"i":420,"a":0.1892,"b":0.1795,"s":"g","g":12},{"i":421,"a":0.1928,"b":0.1795,"s":"g","g":12},{"i":422.5,"a":0.1892,"b":0.1795,"s":"g","g":12},{"i":425,"a":0.1888,"b":0.1795,"s":"g","g":12},{"i":428,"a":0.1795,"b":0.1795,"s":"g","g":12},
{"i":428,"a":0.1795,"b":0.1795,"s":"r","g":13},{"i":431,"a":0.1759,"b":0.1795,"s":"r","g":13},{"i":442,"a":0.175,"b":0.1795,"s":"r","g":13},{"i":443.5,"a":0.1692,"b":0.1795,"s":"r","g":13},{"i":446.5,"a":0.1635,"b":0.1795,"s":"r","g":13},{"i":447,"a":0.1626,"b":0.187,"s":"r","g":13},{"i":448,"a":0.1612,"b":0.1874,"s":"r","g":13},{"i":450,"a":0.1608,"b":0.1888,"s":"r","g":13},{"i":453,"a":0.1604,"b":0.1888,"s":"r","g":13},{"i":456,"a":0.1657,"b":0.1888,"s":"r","g":13},{"i":460,"a":0.1657,"b":0.1888,"s":"r","g":13},{"i":463,"a":0.1604,"b":0.1852,"s":"r","g":13},{"i":467.5,"a":0.1626,"b":0.1848,"s":"r","g":13},{"i":470,"a":0.1612,"b":0.1723,"s":"r","g":13},{"i":471.5,"a":0.159,"b":0.1679,"s":"r","g":13},{"i":474,"a":0.156,"b":0.159,"s":"r","g":13},{"i":476.5,"a":0.1528,"b":0.1528,"s":"r","g":13},{"i":478,"a":0.1457,"b":0.1502,"s":"r","g":13},{"i":483,"a":0.1413,"b":0.1502,"s":"r","g":13},{"i":485,"a":0.1373,"b":0.1502,"s":"r","g":13},{"i":489,"a":0.1439,"b":0.1502,"s":"r","g":13},{"i":494.5,"a":0.1448,"b":0.1502,"s":"r","g":13},{"i":495,"a":0.1502,"b":0.1502,"s":"r","g":13},
{"i":495,"a":0.1502,"b":0.1502,"s":"g","g":14},{"i":496,"a":0.1537,"b":0.1502,"s":"g","g":14},{"i":499.5,"a":0.1537,"b":0.1502,"s":"g","g":14},{"i":500,"a":0.1826,"b":0.1812,"s":"g","g":14},{"i":502,"a":0.1892,"b":0.1817,"s":"g","g":14},{"i":504,"a":0.191,"b":0.1816,"s":"g","g":14}],
"levels":[{"x1":57,"x2":557.5,"p":0.26},{"x1":-1,"x2":557.5,"p":0.1241},{"x1":118.7,"x2":386.7,"p":0.1928},{"x1":389,"x2":477,"p":0.2247}],
"money":[{"i":252,"p":0.1928},{"i":433,"p":0.2247}],
"flags":[{"i":481.8,"p":0.0978},{"i":487.7,"p":0.0978},{"i":493.6,"p":0.0978}],
"tags":[{"i":565.7,"p":0.26,"t":"0.2600","k":"level","f":"white"},{"i":565.7,"p":0.1241,"t":"0.1241","k":"level","f":"white"},{"i":565.7,"p":0.1912,"t":"0.1910","k":"spanA","f":"ink"},{"i":565.7,"p":0.1861,"t":"0.1816","k":"spanB","f":"ink"}],
"main_text":[
{"i":2,"p":0.2851,"t":"Keeta / US Dollar · 4h · Coinbase","k":"ink"},{"i":64.3,"p":0.2851,"t":"O","k":"ink"},{"i":67.2,"p":0.2851,"t":"0.1933","k":"down"},{"i":82,"p":0.2851,"t":"H","k":"ink"},{"i":84.9,"p":0.2851,"t":"0.1933","k":"down"},{"i":99,"p":0.2851,"t":"L","k":"ink"},{"i":101,"p":0.2851,"t":"0.1769","k":"down"},{"i":115.8,"p":0.2851,"t":"C","k":"ink"},{"i":118.3,"p":0.2851,"t":"0.1811","k":"down"},{"i":133,"p":0.2851,"t":"−0.0125 (−6.46%)","k":"down"},
{"i":2,"p":0.2798,"t":"Ichimoku (9, 26, 52, 26)","k":"ink"},{"i":47.6,"p":0.2798,"t":"0.1910","k":"spanA"},{"i":62.3,"p":0.2798,"t":"0.1816","k":"spanB"},
{"i":560,"p":0.2842,"t":"USD","k":"ink"},{"i":560.2,"p":0.1812,"t":"0.1811","k":"white"},{"i":560.2,"p":0.1768,"t":"01:23:06","k":"white"},{"i":541.5,"p":0.1808,"t":"KTAUSD","k":"white"}],
"cvd":[
{"i":0,"o":-70,"c":-139},{"i":2,"o":-139,"c":-70},{"i":4,"o":-70,"c":-139},{"i":6,"o":-139,"c":-207},{"i":7,"o":-207,"c":-276},{"i":8,"o":-276,"c":-344},{"i":9,"o":-344,"c":-413},{"i":10,"o":-413,"c":-549},{"i":11,"o":-549,"c":-618},{"i":13,"o":-70,"c":66},{"i":14,"o":66,"c":203},{"i":15,"o":203,"c":135},{"i":17,"o":66,"c":-70},{"i":19,"o":-70,"c":-139},{"i":22,"o":-139,"c":-70},{"i":25,"o":-70,"c":-139},{"i":27,"o":-139,"c":-413},{"i":28,"o":-413,"c":-344},{"i":30,"o":-139,"c":66},{"i":32,"o":66,"c":135},{"i":33,"o":135,"c":271},{"i":35,"o":271,"c":135},{"i":37,"o":-70,"c":-276},{"i":38,"o":-276,"c":-207},{"i":39,"o":-207,"c":66},{"i":40,"o":66,"c":203},{"i":42,"o":203,"c":-70},{"i":45,"o":-70,"c":-2},{"i":47,"o":-2,"c":-70},{"i":48,"o":-70,"c":135},{"i":50,"o":135,"c":271},
{"i":52,"o":-2,"c":1640},{"i":53,"o":1640,"c":1600},{"i":54,"o":-70,"c":1080},{"i":55,"o":1080,"c":1230},{"i":56,"o":1230,"c":2220},{"i":57,"o":2220,"c":3040},{"i":58,"o":3040,"c":1700},{"i":61,"o":-70,"c":-344},{"i":62,"o":-344,"c":-549},{"i":63,"o":-549,"c":-276},{"i":64,"o":-276,"c":-480},{"i":65,"o":-480,"c":66},{"i":66,"o":66,"c":408},{"i":67,"o":408,"c":-139},{"i":68,"o":-139,"c":-207},{"i":69,"o":-139,"c":-754},{"i":70,"o":-754,"c":-686},{"i":72,"o":-686,"c":-413},{"i":74,"o":-70,"c":66},{"i":75,"o":66,"c":135},{"i":76,"o":135,"c":612},{"i":77,"o":612,"c":544},{"i":79,"o":-70,"c":-139},{"i":81,"o":-139,"c":-70},{"i":83,"o":-70,"c":66},{"i":85,"o":66,"c":-2},{"i":87,"o":-2,"c":-70},{"i":89,"o":-70,"c":-276},{"i":90,"o":-276,"c":-139},{"i":92,"o":-139,"c":135},{"i":94,"o":135,"c":-70},{"i":96,"o":-70,"c":-2},
{"i":98,"o":-70,"c":-276},{"i":100,"o":-276,"c":-139},{"i":102,"o":-139,"c":-70},{"i":104,"o":-70,"c":-2},{"i":106,"o":-2,"c":-139},{"i":108,"o":-139,"c":-344},{"i":110,"o":-344,"c":-276},{"i":112,"o":-276,"c":-70},{"i":114,"o":-70,"c":135},{"i":116,"o":135,"c":66},{"i":118,"o":-70,"c":-207},{"i":120,"o":-207,"c":-139},{"i":122,"o":-139,"c":66},{"i":124,"o":66,"c":271},{"i":126,"o":271,"c":135},{"i":128,"o":-70,"c":-207},{"i":130,"o":-207,"c":-413},{"i":131,"o":-413,"c":-207},{"i":133,"o":-207,"c":-70},{"i":135,"o":-70,"c":135},{"i":136,"o":135,"c":408},{"i":138,"o":408,"c":340},{"i":140,"o":-70,"c":135},{"i":141,"o":135,"c":271},{"i":143,"o":271,"c":135},{"i":146,"o":-70,"c":-207},{"i":149,"o":-207,"c":-344},{"i":152,"o":-344,"c":-276},{"i":154,"o":-276,"c":-480},{"i":157,"o":-139,"c":-70},{"i":160,"o":-70,"c":-139},{"i":163,"o":-139,"c":-207},{"i":166,"o":-207,"c":-139},{"i":169,"o":-139,"c":-207},{"i":172,"o":-207,"c":-276},
{"i":175,"o":-70,"c":-686},{"i":176,"o":-686,"c":-135},{"i":177,"o":-135,"c":-500},{"i":178,"o":-500,"c":-686},{"i":180,"o":-686,"c":-618},{"i":182,"o":-618,"c":-686},{"i":184,"o":-686,"c":-618},{"i":185,"o":-618,"c":-276},{"i":186,"o":-276,"c":-2},{"i":187,"o":-2,"c":135},{"i":188,"o":135,"c":271},{"i":189,"o":271,"c":135},{"i":191,"o":-70,"c":-139},{"i":194,"o":-139,"c":-276},{"i":197,"o":-276,"c":-70},{"i":198,"o":-70,"c":135},{"i":199,"o":135,"c":203},{"i":201,"o":203,"c":66},{"i":203,"o":66,"c":135},{"i":205,"o":135,"c":-2},{"i":207,"o":-70,"c":-2},{"i":209,"o":-2,"c":66},{"i":211,"o":66,"c":135},{"i":213,"o":135,"c":408},{"i":215,"o":408,"c":340},{"i":217,"o":-70,"c":-207},{"i":219,"o":-207,"c":-276},{"i":221,"o":-276,"c":-70},{"i":223,"o":-70,"c":135},{"i":225,"o":135,"c":203},{"i":227,"o":203,"c":135},{"i":229,"o":135,"c":271},{"i":231,"o":271,"c":203},
{"i":234,"o":-70,"c":-2},{"i":238,"o":-2,"c":-70},{"i":242,"o":-70,"c":-2},{"i":246,"o":-2,"c":-70},{"i":250,"o":-70,"c":-139},{"i":254,"o":-139,"c":-70},{"i":258,"o":-70,"c":-207},{"i":260,"o":-207,"c":-276},{"i":262,"o":-139,"c":-2},{"i":265,"o":-2,"c":66},{"i":267,"o":66,"c":135},{"i":269,"o":135,"c":477},{"i":270,"o":477,"c":408},{"i":272,"o":408,"c":-70,"h":1000,"l":-70},{"i":273,"o":-139,"c":408},{"i":274,"o":408,"c":340},{"i":275,"o":340,"c":-207},{"i":276,"o":-207,"c":-549},{"i":278,"o":-70,"c":135},{"i":280,"o":135,"c":271},{"i":282,"o":135,"c":66},{"i":284,"o":66,"c":340},{"i":286,"o":340,"c":545},{"i":289,"o":-70,"c":-207},{"i":291,"o":-207,"c":-139},{"i":293,"o":-139,"c":-2},{"i":295,"o":-2,"c":-70},{"i":297,"o":-70,"c":-139},{"i":299,"o":-139,"c":-480},{"i":300,"o":-480,"c":-207},{"i":302,"o":-139,"c":-2},{"i":304,"o":-2,"c":-207},{"i":306,"o":-207,"c":-549,"h":-139,"l":-750},
{"i":307,"o":-70,"c":340},{"i":308,"o":340,"c":700},{"i":309,"o":700,"c":950},{"i":310,"o":-2,"c":2930},{"i":311,"o":2930,"c":1640,"h":1800,"l":1640},{"i":312,"o":1640,"c":-139},{"i":314,"o":-139,"c":-207},{"i":316,"o":-207,"c":-344},{"i":318,"o":-344,"c":-139},{"i":321,"o":-139,"c":-70},{"i":324,"o":-70,"c":-2},{"i":327,"o":-2,"c":-70},{"i":330,"o":-70,"c":-139},{"i":333,"o":-139,"c":-70},{"i":336,"o":-70,"c":66},{"i":338,"o":66,"c":340},{"i":339,"o":340,"c":271},{"i":341,"o":-70,"c":-139},{"i":343,"o":-139,"c":-207},{"i":345,"o":-207,"c":-2},{"i":347,"o":-2,"c":135},{"i":349,"o":135,"c":-2},{"i":351,"o":-2,"c":-70},{"i":353,"o":-70,"c":-480},{"i":355,"o":-480,"c":-344},{"i":356,"o":-344,"c":-70},{"i":357,"o":-70,"c":-2},{"i":358,"o":-70,"c":-2},{"i":359,"o":-2,"c":750},{"i":360,"o":750,"c":2560},{"i":361,"o":2560,"c":3600},
{"i":364,"o":-70,"c":-139},{"i":366,"o":-139,"c":-2},{"i":368,"o":-2,"c":-207},{"i":370,"o":-207,"c":-70},{"i":372,"o":-70,"c":340},{"i":373,"o":340,"c":135},{"i":374,"o":135,"c":-276},{"i":376,"o":-70,"c":-207},{"i":378,"o":-207,"c":-139},{"i":380,"o":-139,"c":66},{"i":382,"o":66,"c":135},{"i":385,"o":135,"c":340},{"i":386,"o":340,"c":750,"h":1300,"l":340},{"i":388,"o":750,"c":271},{"i":389,"o":271,"c":-139},{"i":390,"o":340,"c":-549},{"i":392,"o":-549,"c":-1300},{"i":393,"o":-1300,"c":-1712},{"i":395,"o":-70,"c":-344},{"i":397,"o":-344,"c":-207},{"i":399,"o":-207,"c":-139},{"i":401,"o":-139,"c":-2},{"i":402,"o":-2,"c":-139},{"i":404,"o":-139,"c":-480},{"i":406,"o":-70,"c":135},{"i":408,"o":135,"c":66},{"i":410,"o":66,"c":-344},{"i":412,"o":-70,"c":135},{"i":414,"o":135,"c":271},{"i":416,"o":271,"c":477},
{"i":419,"o":-70,"c":-207},{"i":421,"o":-207,"c":-344},{"i":423,"o":-344,"c":-207},{"i":425,"o":-207,"c":-139},{"i":428,"o":-139,"c":-207},{"i":430,"o":-207,"c":-70},{"i":432,"o":-70,"c":135},{"i":434,"o":135,"c":-2},{"i":436,"o":-2,"c":-70},{"i":438,"o":-70,"c":-207},{"i":440,"o":-207,"c":-139},{"i":442,"o":-139,"c":-344},{"i":444,"o":-344,"c":-207},{"i":446,"o":-70,"c":135},{"i":448,"o":135,"c":271},{"i":450,"o":271,"c":66},{"i":452,"o":66,"c":-344},{"i":454,"o":-344,"c":-276},{"i":456,"o":-70,"c":135},{"i":458,"o":135,"c":271},{"i":460,"o":271,"c":135},{"i":461,"o":135,"c":-686},{"i":463,"o":-686,"c":-618},{"i":465,"o":-618,"c":-413},{"i":467,"o":-413,"c":-207},{"i":470,"o":-70,"c":-2},{"i":473,"o":-70,"c":66},{"i":474,"o":66,"c":-2},{"i":475,"o":-2,"c":1780},{"i":476,"o":1780,"c":1300,"h":2120,"l":1300},{"i":478,"o":1500,"c":1080},{"i":480,"o":-70,"c":-500}],
"cvd_text":[{"i":1.5,"p":2665,"t":"CVD (1D, 1)","k":"ink"},{"i":25.5,"p":2665,"t":"18.55K","k":"down"},{"i":40.7,"p":2665,"t":"18.55K","k":"down"},{"i":56.4,"p":2665,"t":"−234.74K","k":"down"},{"i":76,"p":2665,"t":"−138.61K","k":"down"},{"i":559.2,"p":2118,"t":"2.12M","k":"white"},{"i":559.2,"p":-139,"t":"−138.61K","k":"white"}],
"footer":[{"i":11.8,"p":-4585,"t":"TradingView"}],
"logo":[{"i":4.4,"p":-4585}]
},
"vconcat":[
{"width":1186,"height":441,
"resolve":{"scale":{"color":"independent"}},
"encoding":{
"x":{"type":"quantitative","scale":{"domain":[-1,581],"nice":false,"zero":false},"axis":null,"field":"i"},
"y":{"type":"quantitative","scale":{"domain":[0.0938,0.2895],"nice":false,"zero":false},"axis":{"orient":"right","values":[0.1,0.11,0.12,0.13,0.14,0.15,0.16,0.17,0.2,0.21,0.22,0.23,0.24,0.25,0.27],"format":".4f","labelPadding":-42,"labelAlign":"left","domain":false,"ticks":false,"tickSize":0,"grid":false,"title":null,"labelFont":"Roboto","labelFontSize":8.6,"labelColor":"#434651"}}},
"layer":[
{"data":{"name":"cloud"},"mark":{"type":"area","clip":true},"encoding":{"y":{"field":"a","type":"quantitative"},"y2":{"field":"b"},"detail":{"field":"g"},"color":{"field":"s","type":"nominal","legend":null,"scale":{"domain":["r","g"],"range":["#fdeaea","#ebf5ec"]}}}},
{"data":{"name":"cloud"},"mark":{"type":"line","color":"#c8e6c9","strokeWidth":1,"clip":true},"encoding":{"y":{"field":"a","type":"quantitative"}}},
{"data":{"name":"cloud"},"mark":{"type":"line","color":"#f7c9c9","strokeWidth":1,"clip":true},"encoding":{"y":{"field":"b","type":"quantitative"}}},
{"data":{"name":"candles"},"mark":{"type":"rule","strokeWidth":1,"opacity":0.55,"clip":true},"encoding":{"y":{"field":"l","type":"quantitative"},"y2":{"field":"h"},"color":{"condition":{"test":"datum.c>=datum.o","value":"#089981"},"value":"#f23645"}}},
{"data":{"name":"candles"},"mark":{"type":"rule","strokeWidth":2,"clip":true},"encoding":{"y":{"field":"o","type":"quantitative"},"y2":{"field":"c"},"color":{"condition":{"test":"datum.c>=datum.o","value":"#089981"},"value":"#f23645"}}},
{"data":{"name":"levels"},"mark":{"type":"rule","color":"#222","strokeWidth":1},"encoding":{"x":{"field":"x1","type":"quantitative"},"x2":{"field":"x2"},"y":{"field":"p","type":"quantitative"}}},
{"data":{"name":"money"},"mark":{"type":"point","filled":true,"opacity":1,"color":"white","shape":"M-1,-0.35H1V0.35H-1Z","size":1024},"encoding":{"y":{"field":"p","type":"quantitative"}}},
{"data":{"name":"money"},"mark":{"type":"text","text":"$$$$","font":"Roboto","fontSize":10.5,"color":"#2962ff"},"encoding":{"y":{"field":"p","type":"quantitative"}}},
{"data":{"name":"flags"},"mark":{"type":"point","filled":true,"opacity":1,"fill":"#fff","stroke":"#f7525f","strokeWidth":1,"shape":"circle","size":180},"encoding":{"y":{"field":"p","type":"quantitative"}}},
{"data":{"name":"flags"},"mark":{"type":"point","filled":true,"opacity":1,"color":"#f7525f","shape":"M-0.75,-0.5H0.75V-0.3H-0.75Z M-0.75,0H0.75V0.2H-0.75Z M-0.6,0.45H0.6V0.65H-0.6Z","size":180},"encoding":{"y":{"field":"p","type":"quantitative"}}},
{"data":{"name":"flags"},"mark":{"type":"point","filled":true,"opacity":1,"color":"#2962ff","shape":"M-0.75,-0.65H0V0.1H-0.75Z","size":180},"encoding":{"y":{"field":"p","type":"quantitative"}}},
{"data":{"name":"tags"},"mark":{"type":"point","filled":true,"opacity":1,"shape":"M-1,-0.35H1V0.35H-1Z","size":1156},"encoding":{"y":{"field":"p","type":"quantitative"},"color":{"field":"k","type":"nominal","legend":null,"scale":{"domain":["level","spanA","spanB"],"range":["#000000","#a5d6a7","#ef9a9a"]}}}},
{"data":{"name":"tags"},"mark":{"type":"text","font":"Roboto","fontSize":8.6},"encoding":{"y":{"field":"p","type":"quantitative"},"text":{"field":"t"},"color":{"field":"f","type":"nominal","legend":null,"scale":{"domain":["white","ink"],"range":["#ffffff","#131722"]}}}},
{"data":{"values":[{"i":568,"p":0.1788}]},"mark":{"type":"point","filled":true,"opacity":1,"color":"#f23645","shape":"M-1,-0.51H1V0.51H-1Z","size":1681},"encoding":{"y":{"field":"p","type":"quantitative"}}},
{"data":{"values":[{"i":548.8,"p":0.1808}]},"mark":{"type":"point","filled":true,"opacity":1,"color":"#f23645","shape":"M-1,-0.36H1V0.36H-1Z","size":1089},"encoding":{"y":{"field":"p","type":"quantitative"}}},
{"data":{"values":[{"i":569.2,"p":0.2842}]},"mark":{"type":"point","filled":true,"opacity":1,"fill":"#fff","stroke":"#eceef3","strokeWidth":1,"shape":"M-1,-0.43H1V0.43H-1Z","size":1764},"encoding":{"y":{"field":"p","type":"quantitative"}}},
{"data":{"name":"main_text"},"mark":{"type":"text","align":"left","font":"Roboto","fontSize":8.6},"encoding":{"y":{"field":"p","type":"quantitative"},"text":{"field":"t"},"color":{"field":"k","type":"nominal","legend":null,"scale":{"domain":["ink","down","spanA","spanB","white"],"range":["#434651","#f7525f","#a5d6a7","#f4a6a6","#ffffff"]}}}}
]},
{"width":1186,"height":97,
"resolve":{"scale":{"color":"independent"}},
"encoding":{
"x":{"field":"i","type":"quantitative","scale":{"domain":[-1,581],"nice":false,"zero":false},"axis":{"orient":"bottom","values":[0,18,36,60,78,96,114,132,150,168,186,204,222,240,258,276,294,312,330,348,366,384,402,426,444,462,480,498,516,534,552],"labelExpr":"date(datetime(2026,2,22,4*datum.value))==1?timeFormat(datetime(2026,2,22,4*datum.value),'%b'):date(datetime(2026,2,22,4*datum.value))","labelPadding":-15,"labelFlush":false,"labelOverlap":false,"domain":false,"ticks":false,"tickSize":0,"grid":false,"title":null,"labelFont":"Roboto","labelFontSize":8.6,"labelColor":"#434651"}},
"y":{"type":"quantitative","scale":{"domain":[-3217,3418],"nice":false,"zero":false},"axis":null}},
"layer":[
{"data":{"name":"cvd"},"mark":{"type":"rule","strokeWidth":0.9,"opacity":0.5,"clip":true},"encoding":{"y":{"field":"l","type":"quantitative"},"y2":{"field":"h"},"color":{"condition":{"test":"datum.c>=datum.o","value":"#089981"},"value":"#f23645"}}},
{"data":{"name":"cvd"},"mark":{"type":"rule","strokeWidth":2.8,"clip":true},"encoding":{"y":{"field":"o","type":"quantitative"},"y2":{"field":"c"},"color":{"condition":{"test":"datum.c>=datum.o","value":"#089981"},"value":"#f23645"}}},
{"data":{"values":[{"x1":-1,"x2":557.5,"p":-139}]},"mark":{"type":"rule","color":"#9598a1","strokeWidth":1,"strokeDash":[3,4]},"encoding":{"x":{"field":"x1","type":"quantitative"},"x2":{"field":"x2"},"y":{"field":"p","type":"quantitative"}}},
{"data":{"values":[{"x1":476,"x2":557.5,"p":2118}]},"mark":{"type":"rule","color":"#222","strokeWidth":1},"encoding":{"x":{"field":"x1","type":"quantitative"},"x2":{"field":"x2"},"y":{"field":"p","type":"quantitative"}}},
{"data":{"values":[{"i":565.5,"p":2118}]},"mark":{"type":"point","filled":true,"opacity":1,"color":"#000","shape":"M-1,-0.36H1V0.36H-1Z","size":1089},"encoding":{"y":{"field":"p","type":"quantitative"}}},
{"data":{"values":[{"i":568.2,"p":-139}]},"mark":{"type":"point","filled":true,"opacity":1,"color":"#f23645","shape":"M-1,-0.27H1V0.27H-1Z","size":1936},"encoding":{"y":{"field":"p","type":"quantitative"}}},
{"data":{"name":"cvd_text"},"mark":{"type":"text","align":"left","font":"Roboto","fontSize":8.6},"encoding":{"y":{"field":"p","type":"quantitative"},"text":{"field":"t"},"color":{"field":"k","type":"nominal","legend":null,"scale":{"domain":["ink","down","white"],"range":["#434651","#f7525f","#ffffff"]}}}},
{"data":{"name":"footer"},"mark":{"type":"text","align":"left","font":"Inter","fontSize":14,"fontWeight":600,"color":"#131722"},"encoding":{"y":{"field":"p","type":"quantitative"},"text":{"field":"t"}}},
{"data":{"name":"logo"},"mark":{"type":"point","filled":true,"opacity":1,"color":"#131722","shape":"M-1,-0.65H-0.1V0.65H-0.55V-0.2H-1Z M-0.1,-0.4a0.2,0.2 0 1,0 0.4,0a0.2,0.2 0 1,0 -0.4,0Z M0.45,-0.65H1L0.55,0.65H0Z","size":441},"encoding":{"y":{"field":"p","type":"quantitative"}}}
]}
]}
